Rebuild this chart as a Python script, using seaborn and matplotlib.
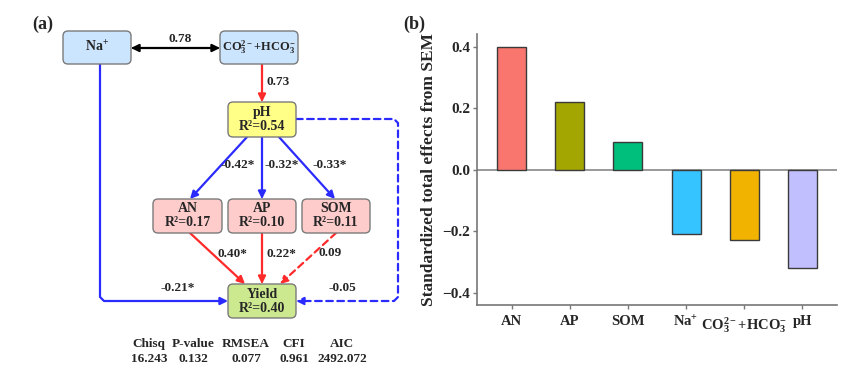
import numpy as np
import pandas as pd
import seaborn as sns
import matplotlib.pyplot as plt
from matplotlib.patches import FancyBboxPatch, FancyArrowPatch
from matplotlib.path import Path

# ---- data ----
bar_labels = ["AN", "AP", "SOM", r"Na$^{+}$", r"CO$_3^{2-}$+HCO$_3^{-}$", "pH"]
bar_values = [0.40, 0.22, 0.09, -0.21, -0.23, -0.32]
bar_colors = ["#F8766D", "#A3A500", "#00BF7D", "#35C4FF", "#F2B300", "#C2BFFF"]
y_ticks = [-0.4, -0.2, 0.0, 0.2, 0.4]

r2_values = {"pH": 0.54, "AN": 0.17, "AP": 0.10, "SOM": 0.11, "Yield": 0.40}
# path coefficients: (from, to, label)
paths = [("CO3", "pH", "0.73"), ("pH", "AN", "-0.42*"), ("pH", "AP", "-0.32*"),
         ("pH", "SOM", "-0.33*"), ("AN", "Yield", "0.40*"), ("AP", "Yield", "0.22*"),
         ("SOM", "Yield", "0.09"), ("Na", "Yield", "-0.21*"), ("pH", "Yield", "-0.05")]
cov_label = "0.78"
fit_names = ["Chisq", "P-value", "RMSEA", "CFI", "AIC"]
fit_values = ["16.243", "0.132", "0.077", "0.961", "2492.072"]

sns.set_style("white")
plt.rcParams["font.family"] = ["Liberation Serif", "DejaVu Serif"]
plt.rcParams["font.weight"] = "bold"
plt.rcParams["mathtext.fontset"] = "custom"
plt.rcParams["mathtext.rm"] = "Liberation Serif:bold"
plt.rcParams["mathtext.it"] = "Liberation Serif:bold"
plt.rcParams["mathtext.bf"] = "Liberation Serif:bold"

fig = plt.figure(figsize=(8.65, 3.71), dpi=100)

# ---- (a) path diagram, in pixel coordinates ----
axa = fig.add_axes([0, 0, 432 / 865, 1])
axa.set_xlim(0, 432)
axa.set_ylim(371, 0)
axa.axis("off")

# node boxes: x0, y0, x1, y1, fill
nodes = {
    "Na": (63, 31, 131, 64, "#CCE5FF"),
    "CO3": (220, 31, 298, 64, "#CCE5FF"),
    "pH": (228, 102, 296, 137, "#FFFF88"),
    "AN": (153, 199, 222, 233, "#FFCCCC"),
    "AP": (228, 199, 296, 233, "#FFCCCC"),
    "SOM": (302, 199, 370, 233, "#FFCCCC"),
    "Yield": (228, 284, 296, 318, "#CDE98F"),
}
node_text = {"Na": bar_labels[3], "CO3": bar_labels[4]}
for k in ["pH", "AN", "AP", "SOM", "Yield"]:
    node_text[k] = k + "\n" + "R²=" + f"{r2_values[k]:.2f}"

for k, (x0, y0, x1, y1, fc) in nodes.items():
    axa.add_patch(FancyBboxPatch((x0, y0), x1 - x0, y1 - y0,
                                 boxstyle="round,pad=0,rounding_size=5",
                                 fc=fc, ec="#7A7A7A", lw=1.0, zorder=3))
    axa.text((x0 + x1) / 2, (y0 + y1) / 2, node_text[k], ha="center", va="center",
             fontsize=9 if k == "CO3" else 10, fontweight="bold",
             linespacing=1.1, zorder=4)

RED, BLUE = "#FF2A2A", "#2B2BFF"


def arrow(pts, color, ls="-", style="-|>"):
    codes = [Path.MOVETO] + [Path.LINETO] * (len(pts) - 1)
    p = FancyArrowPatch(path=Path(pts, codes), arrowstyle=style,
                        mutation_scale=11, color=color, lw=1.6,
                        linestyle=ls, zorder=2, shrinkA=0, shrinkB=0)
    axa.add_patch(p)


arrow([(131, 48), (220, 48)], "black", style="<|-|>")
arrow([(262, 64), (262, 102)], RED)
arrow([(247, 137), (190, 199)], BLUE)
arrow([(262, 137), (262, 199)], BLUE)
arrow([(279, 137), (335, 199)], BLUE)
arrow([(190, 233), (245, 284)], RED)
arrow([(262, 233), (262, 284)], RED)
arrow([(336, 233), (280, 284)], RED, ls=(0, (3, 2)))
arrow([(100, 64), (100, 297), (104, 301), (228, 301)], BLUE)
arrow([(296, 119), (394, 119), (398, 123), (398, 297), (394, 301), (296, 301)],
      BLUE, ls=(0, (3, 2)))

label_pos = [(278, 82), (238, 165), (282, 165), (330, 165), (232, 254),
             (281, 254), (330, 253), (178, 288), (342, 288)]
for (a, b, lab), (x, y) in zip(paths, label_pos):
    axa.text(x, y, lab, ha="center", va="center", fontsize=9.5, fontweight="bold")
axa.text(180, 39, cov_label, ha="center", va="center", fontsize=9.5, fontweight="bold")

for i, (n, v) in enumerate(zip(fit_names, fit_values)):
    x = [149, 193, 246, 294, 342][i]
    axa.text(x, 344, n, ha="center", va="center", fontsize=9.5, fontweight="bold")
    axa.text(x, 359, v, ha="center", va="center", fontsize=9.5, fontweight="bold")

fig.text(43 / 865, 1 - 24 / 371, "(a)", ha="center", va="center",
         fontsize=13, fontweight="bold")
fig.text(414 / 865, 1 - 24 / 371, "(b)", ha="center", va="center",
         fontsize=13, fontweight="bold")

# ---- (b) bar chart ----
axb = fig.add_axes([477 / 865, 66 / 371, 360 / 865, 271 / 371])
df = pd.DataFrame({"var": bar_labels, "effect": bar_values})
sns.barplot(data=df, x="var", y="effect", hue="var", palette=bar_colors,
            saturation=1, width=0.5, edgecolor="#3A3A3A", linewidth=1.0,
            legend=False, ax=axb)
axb.axhline(0, color="#888888", lw=1.2, zorder=0)
axb.set_xlim(-0.6, 5.6)
axb.set_ylim(-0.44, 0.442)
axb.set_yticks(y_ticks)
axb.set_yticklabels([f"{t:.1f}".replace("-", "\u2212") for t in y_ticks],
                    fontsize=11, fontweight="bold")
axb.set_xticks(range(len(bar_labels)))
axb.set_xticklabels(bar_labels, fontsize=10.5, fontweight="bold")
axb.set_xlabel("")
axb.set_ylabel("Standardized total effects from SEM", fontsize=12.5, fontweight="bold")
axb.yaxis.set_label_coords(-0.111, 0.5)
for s in ["top", "right"]:
    axb.spines[s].set_visible(False)
for s in ["left", "bottom"]:
    axb.spines[s].set_color("#777777")
    axb.spines[s].set_linewidth(1.2)
axb.tick_params(axis="both", direction="out", length=3, width=1, color="#777777",
                left=True, bottom=True, pad=2)
axb.tick_params(axis="x", pad=4)

fig.savefig("out.png", dpi=100)
